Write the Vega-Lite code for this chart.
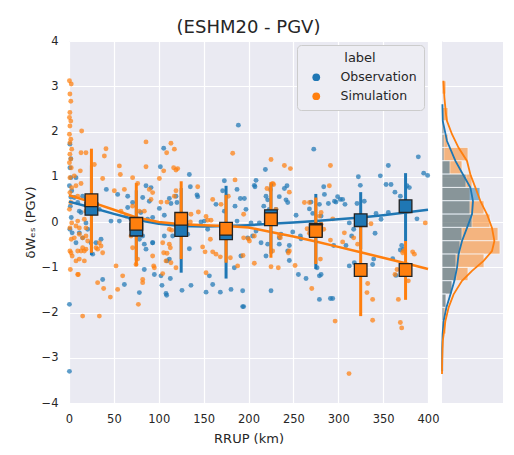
{
"$schema": "https://vega.github.io/schema/vega-lite/v6.json",
"background": "white",
"padding": {"left": 24, "top": 19, "right": 5, "bottom": 5},
"bounds": "flush",
"config": {
"font": "DejaVu Sans",
"view": {"fill": "#EAEAF2", "stroke": null},
"axis": {"domain": false, "ticks": false, "tickSize": 0, "grid": true, "gridColor": "#FFFFFF", "gridWidth": 1.2, "labelFlush": false, "labelColor": "#262626", "labelFont": "DejaVu Sans", "labelFontSize": 11.5, "titleFont": "DejaVu Sans", "titleFontSize": 13, "titleFontWeight": "normal", "titleColor": "#262626"},
"concat": {"spacing": 14}
},
"datasets": {
"pts": [
{"r":1,"v":1.72,"label":"Observation"},{"r":2,"v":0.98,"label":"Observation"},{"r":0.5,"v":0.8,"label":"Observation"},{"r":3,"v":0.69,"label":"Observation"},{"r":1.5,"v":0.35,"label":"Observation"},{"r":2.5,"v":0.1,"label":"Observation"},{"r":1,"v":-0.16,"label":"Observation"},{"r":3.5,"v":-0.24,"label":"Observation"},{"r":0.5,"v":-1.82,"label":"Observation"},{"r":0.5,"v":-3.3,"label":"Observation"},{"r":2,"v":1.4,"label":"Observation"},{"r":1,"v":1.2,"label":"Observation"},{"r":2,"v":0.55,"label":"Observation"},
{"r":41.6,"v":0.72,"label":"Observation"},{"r":46.8,"v":0.02,"label":"Observation"},{"r":56.1,"v":0.02,"label":"Observation"},{"r":54.2,"v":0.61,"label":"Observation"},{"r":65.4,"v":0.57,"label":"Observation"},{"r":65.4,"v":0.32,"label":"Observation"},{"r":70.9,"v":0.43,"label":"Observation"},{"r":82.1,"v":0.54,"label":"Observation"},{"r":85.8,"v":0.8,"label":"Observation"},{"r":91.4,"v":0.76,"label":"Observation"},{"r":89.5,"v":0.46,"label":"Observation"},{"r":69.1,"v":0.06,"label":"Observation"},{"r":76.5,"v":0.02,"label":"Observation"},{"r":87.6,"v":0.06,"label":"Observation"},{"r":93.2,"v":0.1,"label":"Observation"},{"r":82.1,"v":-0.31,"label":"Observation"},{"r":78.4,"v":-0.38,"label":"Observation"},{"r":83.9,"v":-0.49,"label":"Observation"},{"r":93.2,"v":-0.46,"label":"Observation"},{"r":85.8,"v":-0.6,"label":"Observation"},{"r":26.4,"v":-0.71,"label":"Observation"},{"r":30.1,"v":-0.46,"label":"Observation"},{"r":24.5,"v":-0.46,"label":"Observation"},{"r":15.2,"v":0.57,"label":"Observation"},{"r":18.9,"v":0.5,"label":"Observation"},{"r":20.8,"v":0.39,"label":"Observation"},{"r":5.9,"v":0.54,"label":"Observation"},{"r":9.7,"v":0.43,"label":"Observation"},{"r":11.5,"v":0.24,"label":"Observation"},{"r":13.4,"v":0.21,"label":"Observation"},{"r":18.9,"v":-0.02,"label":"Observation"},{"r":20.8,"v":-0.16,"label":"Observation"},{"r":11.5,"v":-0.24,"label":"Observation"},{"r":15.2,"v":-0.35,"label":"Observation"},{"r":7.8,"v":-0.46,"label":"Observation"},{"r":28.2,"v":0.24,"label":"Observation"},{"r":33.8,"v":0.28,"label":"Observation"},{"r":35.7,"v":-0.38,"label":"Observation"},{"r":37.5,"v":-1.27,"label":"Observation"},{"r":61.7,"v":-1.38,"label":"Observation"},{"r":78.4,"v":-1.56,"label":"Observation"},{"r":83.9,"v":-1.05,"label":"Observation"},{"r":7.8,"v":0.98,"label":"Observation"},{"r":80,"v":0.21,"label":"Observation"},
{"r":188.7,"v":2.14,"label":"Observation"},{"r":105.5,"v":1.63,"label":"Observation"},{"r":101.8,"v":1.22,"label":"Observation"},{"r":100.7,"v":0.3,"label":"Observation"},{"r":106.2,"v":0.15,"label":"Observation"},{"r":111.8,"v":0.52,"label":"Observation"},{"r":113.6,"v":0.41,"label":"Observation"},{"r":119.2,"v":0.57,"label":"Observation"},{"r":120.3,"v":0.43,"label":"Observation"},{"r":134.1,"v":1.05,"label":"Observation"},{"r":135.2,"v":0.78,"label":"Observation"},{"r":142.6,"v":0.6,"label":"Observation"},{"r":143.4,"v":0.56,"label":"Observation"},{"r":132.2,"v":-0.27,"label":"Observation"},{"r":134.1,"v":-0.59,"label":"Observation"},{"r":147.1,"v":0,"label":"Observation"},{"r":150.8,"v":0.02,"label":"Observation"},{"r":154.5,"v":-0.16,"label":"Observation"},{"r":163.8,"v":0.39,"label":"Observation"},{"r":171.2,"v":0.69,"label":"Observation"},{"r":173.1,"v":0.91,"label":"Observation"},{"r":187.2,"v":0.72,"label":"Observation"},{"r":190.9,"v":0.52,"label":"Observation"},{"r":185,"v":0.35,"label":"Observation"},{"r":173.1,"v":0.24,"label":"Observation"},{"r":187.2,"v":0.02,"label":"Observation"},{"r":191.6,"v":-0.75,"label":"Observation"},{"r":184.2,"v":-1.01,"label":"Observation"},{"r":156.4,"v":-1.19,"label":"Observation"},{"r":160.1,"v":-1.38,"label":"Observation"},{"r":152.7,"v":-1.55,"label":"Observation"},{"r":168.6,"v":-1.55,"label":"Observation"},{"r":180.5,"v":-1.49,"label":"Observation"},{"r":193.5,"v":-1.87,"label":"Observation"},{"r":102.5,"v":-1.19,"label":"Observation"},{"r":103.6,"v":-1.4,"label":"Observation"},{"r":108.1,"v":-1.58,"label":"Observation"},{"r":108.8,"v":-1.62,"label":"Observation"},{"r":112.9,"v":-1.25,"label":"Observation"},{"r":125.9,"v":-1.51,"label":"Observation"},{"r":135.9,"v":-1.4,"label":"Observation"},{"r":93.2,"v":-0.46,"label":"Observation"},{"r":95.1,"v":-1.16,"label":"Observation"},{"r":111.8,"v":-0.82,"label":"Observation"},{"r":109.2,"v":-0.86,"label":"Observation"},{"r":115.5,"v":-0.31,"label":"Observation"},{"r":106.2,"v":-0.31,"label":"Observation"},
{"r":272.7,"v":1.61,"label":"Observation"},{"r":218.8,"v":1.16,"label":"Observation"},{"r":208.4,"v":0.92,"label":"Observation"},{"r":206.5,"v":0.81,"label":"Observation"},{"r":207.2,"v":0.78,"label":"Observation"},{"r":195.4,"v":0.52,"label":"Observation"},{"r":219.5,"v":0.57,"label":"Observation"},{"r":221.4,"v":0.49,"label":"Observation"},{"r":234.3,"v":0.56,"label":"Observation"},{"r":240,"v":0.74,"label":"Observation"},{"r":242.9,"v":0.8,"label":"Observation"},{"r":241.8,"v":0.49,"label":"Observation"},{"r":243.7,"v":0.43,"label":"Observation"},{"r":217,"v":0.35,"label":"Observation"},{"r":223.2,"v":0.28,"label":"Observation"},{"r":230.6,"v":0.28,"label":"Observation"},{"r":202.8,"v":-0.02,"label":"Observation"},{"r":197.2,"v":0.28,"label":"Observation"},{"r":212.1,"v":-0.02,"label":"Observation"},{"r":208.4,"v":-0.2,"label":"Observation"},{"r":204.6,"v":-0.31,"label":"Observation"},{"r":199.1,"v":-0.35,"label":"Observation"},{"r":214,"v":-0.46,"label":"Observation"},{"r":221.4,"v":-0.49,"label":"Observation"},{"r":236.2,"v":-0.27,"label":"Observation"},{"r":249.3,"v":-0.22,"label":"Observation"},{"r":245.5,"v":-0.52,"label":"Observation"},{"r":243.7,"v":-0.64,"label":"Observation"},{"r":253,"v":0.15,"label":"Observation"},{"r":267.9,"v":0.29,"label":"Observation"},{"r":269.7,"v":0.44,"label":"Observation"},{"r":279,"v":0.39,"label":"Observation"},{"r":283.8,"v":0.78,"label":"Observation"},{"r":284.6,"v":0.61,"label":"Observation"},{"r":289,"v":0.41,"label":"Observation"},{"r":295.8,"v":0.46,"label":"Observation"},{"r":271.6,"v":0.19,"label":"Observation"},{"r":280.9,"v":0.13,"label":"Observation"},{"r":257.8,"v":-0.31,"label":"Observation"},{"r":258.5,"v":-0.37,"label":"Observation"},{"r":255.6,"v":-1.16,"label":"Observation"},{"r":264.1,"v":-1.25,"label":"Observation"},{"r":279,"v":-1.19,"label":"Observation"},{"r":280.9,"v":-1.16,"label":"Observation"},{"r":276.4,"v":-1.01,"label":"Observation"},{"r":291.3,"v":-1.69,"label":"Observation"},{"r":279,"v":-1.71,"label":"Observation"},{"r":225.1,"v":-1.52,"label":"Observation"},{"r":193.5,"v":-1.52,"label":"Observation"},{"r":194.6,"v":-1.87,"label":"Observation"},{"r":219.5,"v":-0.75,"label":"Observation"},{"r":245.5,"v":-0.85,"label":"Observation"},{"r":234.3,"v":-0.35,"label":"Observation"},{"r":234.3,"v":-0.49,"label":"Observation"},
{"r":389.2,"v":1.44,"label":"Observation"},{"r":355.8,"v":1.25,"label":"Observation"},{"r":346.9,"v":1.02,"label":"Observation"},{"r":322.4,"v":1.0,"label":"Observation"},{"r":324.6,"v":0.81,"label":"Observation"},{"r":353.3,"v":0.83,"label":"Observation"},{"r":358.8,"v":0.83,"label":"Observation"},{"r":363.2,"v":0.66,"label":"Observation"},{"r":369.2,"v":0.57,"label":"Observation"},{"r":376.6,"v":0.8,"label":"Observation"},{"r":379.2,"v":0.76,"label":"Observation"},{"r":395.2,"v":1.08,"label":"Observation"},{"r":399.6,"v":1.03,"label":"Observation"},{"r":299.3,"v":0.56,"label":"Observation"},{"r":302.3,"v":0.5,"label":"Observation"},{"r":304.9,"v":0.5,"label":"Observation"},{"r":297.5,"v":0.44,"label":"Observation"},{"r":307.5,"v":0.39,"label":"Observation"},{"r":320.9,"v":0.41,"label":"Observation"},{"r":329,"v":0.46,"label":"Observation"},{"r":342.1,"v":0.19,"label":"Observation"},{"r":347.7,"v":0.06,"label":"Observation"},{"r":355.8,"v":0.21,"label":"Observation"},{"r":387.7,"v":0.07,"label":"Observation"},{"r":312.3,"v":-0.02,"label":"Observation"},{"r":317.2,"v":-0.16,"label":"Observation"},{"r":314.9,"v":-0.31,"label":"Observation"},{"r":341,"v":-0.25,"label":"Observation"},{"r":294.9,"v":-0.52,"label":"Observation"},{"r":308.6,"v":-0.52,"label":"Observation"},{"r":317.9,"v":-0.9,"label":"Observation"},{"r":312.3,"v":-0.97,"label":"Observation"},{"r":338.3,"v":-0.94,"label":"Observation"},{"r":339.5,"v":-0.82,"label":"Observation"},{"r":360.7,"v":-0.81,"label":"Observation"},{"r":370.7,"v":-0.52,"label":"Observation"},{"r":372.9,"v":-0.6,"label":"Observation"},{"r":369.2,"v":-0.62,"label":"Observation"},{"r":364.3,"v":-1.18,"label":"Observation"},{"r":293.8,"v":-1.69,"label":"Observation"},
{"r":0.5,"v":3.12,"label":"Simulation"},{"r":2.5,"v":3.05,"label":"Simulation"},{"r":1,"v":2.83,"label":"Simulation"},{"r":2,"v":2.67,"label":"Simulation"},{"r":1,"v":2.42,"label":"Simulation"},{"r":0.5,"v":2.31,"label":"Simulation"},{"r":2,"v":2.23,"label":"Simulation"},{"r":1,"v":2.12,"label":"Simulation"},{"r":0.5,"v":1.94,"label":"Simulation"},{"r":2,"v":1.83,"label":"Simulation"},{"r":1,"v":1.75,"label":"Simulation"},{"r":3,"v":1.61,"label":"Simulation"},{"r":1,"v":1.5,"label":"Simulation"},{"r":2,"v":1.39,"label":"Simulation"},{"r":0.5,"v":1.31,"label":"Simulation"},{"r":2.5,"v":1.2,"label":"Simulation"},{"r":1,"v":0.98,"label":"Simulation"},{"r":3,"v":0.76,"label":"Simulation"},{"r":1,"v":0.65,"label":"Simulation"},{"r":2,"v":0.43,"label":"Simulation"},{"r":0.5,"v":0.28,"label":"Simulation"},{"r":3,"v":-0.02,"label":"Simulation"},{"r":1,"v":-0.13,"label":"Simulation"},{"r":2.5,"v":-0.38,"label":"Simulation"},{"r":1,"v":-0.64,"label":"Simulation"},{"r":3.5,"v":-0.75,"label":"Simulation"},{"r":1.5,"v":-1.05,"label":"Simulation"},
{"r":14.1,"v":2.01,"label":"Simulation"},{"r":13.4,"v":1.53,"label":"Simulation"},{"r":18.9,"v":1.53,"label":"Simulation"},{"r":28.2,"v":1.27,"label":"Simulation"},{"r":41.2,"v":1.62,"label":"Simulation"},{"r":39.4,"v":1.46,"label":"Simulation"},{"r":37.5,"v":0.96,"label":"Simulation"},{"r":13.4,"v":0.85,"label":"Simulation"},{"r":12.6,"v":1.13,"label":"Simulation"},{"r":5.9,"v":1.02,"label":"Simulation"},{"r":7.8,"v":0.8,"label":"Simulation"},{"r":9.7,"v":0.57,"label":"Simulation"},{"r":22.7,"v":0.57,"label":"Simulation"},{"r":18.9,"v":0.24,"label":"Simulation"},{"r":9.7,"v":0.02,"label":"Simulation"},{"r":7.8,"v":-0.09,"label":"Simulation"},{"r":11.5,"v":-0.13,"label":"Simulation"},{"r":17.1,"v":0.06,"label":"Simulation"},{"r":18.9,"v":-0.13,"label":"Simulation"},{"r":11.5,"v":-0.27,"label":"Simulation"},{"r":5.9,"v":-0.35,"label":"Simulation"},{"r":15.2,"v":-0.35,"label":"Simulation"},{"r":18.9,"v":-0.31,"label":"Simulation"},{"r":20.8,"v":-0.42,"label":"Simulation"},{"r":15.2,"v":-0.57,"label":"Simulation"},{"r":18.9,"v":-0.6,"label":"Simulation"},{"r":17.1,"v":-0.64,"label":"Simulation"},{"r":13.4,"v":-0.64,"label":"Simulation"},{"r":9.7,"v":-0.64,"label":"Simulation"},{"r":2.2,"v":-0.68,"label":"Simulation"},{"r":33.8,"v":-0.46,"label":"Simulation"},{"r":35.7,"v":-0.53,"label":"Simulation"},{"r":37.5,"v":-0.68,"label":"Simulation"},{"r":30.1,"v":-0.57,"label":"Simulation"},{"r":31.9,"v":-0.6,"label":"Simulation"},{"r":7.8,"v":-0.86,"label":"Simulation"},{"r":17.1,"v":-0.86,"label":"Simulation"},{"r":11.5,"v":-0.82,"label":"Simulation"},{"r":9.7,"v":-1.16,"label":"Simulation"},{"r":31.9,"v":-1.34,"label":"Simulation"},{"r":38.6,"v":-1.47,"label":"Simulation"},{"r":46.1,"v":-1.66,"label":"Simulation"},{"r":15.2,"v":-2.08,"label":"Simulation"},{"r":33.8,"v":-2.08,"label":"Simulation"},{"r":56.1,"v":1.24,"label":"Simulation"},{"r":57.2,"v":1.05,"label":"Simulation"},{"r":50.5,"v":0.69,"label":"Simulation"},{"r":61.7,"v":0.72,"label":"Simulation"},{"r":70.9,"v":0.98,"label":"Simulation"},{"r":76.5,"v":0.85,"label":"Simulation"},{"r":85.8,"v":1.77,"label":"Simulation"},{"r":85.8,"v":1.22,"label":"Simulation"},{"r":89.5,"v":0.72,"label":"Simulation"},{"r":93.2,"v":0.65,"label":"Simulation"},{"r":91.4,"v":0.5,"label":"Simulation"},{"r":57.9,"v":0.24,"label":"Simulation"},{"r":63.5,"v":0.13,"label":"Simulation"},{"r":70.9,"v":0.35,"label":"Simulation"},{"r":69.1,"v":-0.31,"label":"Simulation"},{"r":70.9,"v":-0.57,"label":"Simulation"},{"r":78.4,"v":0.24,"label":"Simulation"},{"r":83.9,"v":0.24,"label":"Simulation"},{"r":76.5,"v":-0.82,"label":"Simulation"},{"r":74.7,"v":-0.94,"label":"Simulation"},{"r":52.4,"v":-0.97,"label":"Simulation"},{"r":59.8,"v":-1.19,"label":"Simulation"},{"r":54.2,"v":-1.49,"label":"Simulation"},{"r":82.1,"v":-1.27,"label":"Simulation"},{"r":82.1,"v":-1.34,"label":"Simulation"},{"r":77.3,"v":-1.82,"label":"Simulation"},{"r":93.2,"v":-0.75,"label":"Simulation"},{"r":94.3,"v":-0.97,"label":"Simulation"},{"r":10.4,"v":-1.16,"label":"Simulation"},
{"r":113.6,"v":1.74,"label":"Simulation"},{"r":117.4,"v":1.61,"label":"Simulation"},{"r":108.8,"v":1.53,"label":"Simulation"},{"r":116.6,"v":1.2,"label":"Simulation"},{"r":121.1,"v":1.18,"label":"Simulation"},{"r":119.2,"v":1.15,"label":"Simulation"},{"r":105.5,"v":1.13,"label":"Simulation"},{"r":100.7,"v":0.96,"label":"Simulation"},{"r":102.5,"v":0.44,"label":"Simulation"},{"r":109.2,"v":0.44,"label":"Simulation"},{"r":119.2,"v":0.69,"label":"Simulation"},{"r":117.4,"v":0.57,"label":"Simulation"},{"r":143.4,"v":0.78,"label":"Simulation"},{"r":135.9,"v":0.17,"label":"Simulation"},{"r":144.1,"v":0.22,"label":"Simulation"},{"r":152.7,"v":0.12,"label":"Simulation"},{"r":154.5,"v":0.04,"label":"Simulation"},{"r":158.2,"v":0.04,"label":"Simulation"},{"r":135.2,"v":0,"label":"Simulation"},{"r":111.8,"v":-0.16,"label":"Simulation"},{"r":114.4,"v":-0.18,"label":"Simulation"},{"r":104.4,"v":-0.46,"label":"Simulation"},{"r":111.8,"v":-0.49,"label":"Simulation"},{"r":112.9,"v":-0.57,"label":"Simulation"},{"r":105.5,"v":-0.68,"label":"Simulation"},{"r":109.2,"v":-0.69,"label":"Simulation"},{"r":108.1,"v":-0.86,"label":"Simulation"},{"r":119.2,"v":-1.01,"label":"Simulation"},{"r":113.6,"v":-0.9,"label":"Simulation"},{"r":95.1,"v":-1.01,"label":"Simulation"},{"r":104.4,"v":-1.14,"label":"Simulation"},{"r":182.4,"v":1.52,"label":"Simulation"},{"r":185,"v":0.93,"label":"Simulation"},{"r":160.1,"v":0.5,"label":"Simulation"},{"r":169.4,"v":0.39,"label":"Simulation"},{"r":177.5,"v":0.57,"label":"Simulation"},{"r":157.5,"v":-0.38,"label":"Simulation"},{"r":148.9,"v":-0.55,"label":"Simulation"},{"r":151.6,"v":-0.66,"label":"Simulation"},{"r":160.1,"v":-0.66,"label":"Simulation"},{"r":163.8,"v":-0.71,"label":"Simulation"},{"r":168.6,"v":-0.77,"label":"Simulation"},{"r":179.8,"v":-0.79,"label":"Simulation"},{"r":194.6,"v":-0.35,"label":"Simulation"},{"r":194.6,"v":0.17,"label":"Simulation"},{"r":152.7,"v":-1.12,"label":"Simulation"},{"r":187.9,"v":-0.97,"label":"Simulation"},{"r":193.9,"v":-0.74,"label":"Simulation"},
{"r":225.1,"v":1.38,"label":"Simulation"},{"r":240,"v":1.25,"label":"Simulation"},{"r":246.7,"v":1.18,"label":"Simulation"},{"r":291.3,"v":1.25,"label":"Simulation"},{"r":226.9,"v":0.85,"label":"Simulation"},{"r":228,"v":0.83,"label":"Simulation"},{"r":220.6,"v":0.74,"label":"Simulation"},{"r":224.3,"v":0.71,"label":"Simulation"},{"r":245.5,"v":0.66,"label":"Simulation"},{"r":262.3,"v":0.43,"label":"Simulation"},{"r":267.9,"v":0.43,"label":"Simulation"},{"r":290.1,"v":0.8,"label":"Simulation"},{"r":230.6,"v":0.28,"label":"Simulation"},{"r":199.8,"v":-0.37,"label":"Simulation"},{"r":201,"v":-0.42,"label":"Simulation"},{"r":206.5,"v":-0.31,"label":"Simulation"},{"r":226.9,"v":-0.64,"label":"Simulation"},{"r":235.5,"v":-0.35,"label":"Simulation"},{"r":245.5,"v":-0.64,"label":"Simulation"},{"r":244.4,"v":-0.68,"label":"Simulation"},{"r":234.3,"v":-0.31,"label":"Simulation"},{"r":265.3,"v":-0.15,"label":"Simulation"},{"r":267.9,"v":-0.25,"label":"Simulation"},{"r":279,"v":0.13,"label":"Simulation"},{"r":280.9,"v":-0.05,"label":"Simulation"},{"r":283.8,"v":-0.16,"label":"Simulation"},{"r":293.9,"v":0.07,"label":"Simulation"},{"r":291.3,"v":-0.4,"label":"Simulation"},{"r":206.5,"v":-0.91,"label":"Simulation"},{"r":225.1,"v":-0.99,"label":"Simulation"},{"r":233.2,"v":-1.01,"label":"Simulation"},{"r":251.9,"v":-0.96,"label":"Simulation"},{"r":280.1,"v":-0.82,"label":"Simulation"},{"r":270.5,"v":-1.47,"label":"Simulation"},{"r":296.5,"v":-2.19,"label":"Simulation"},{"r":280.9,"v":0.21,"label":"Simulation"},
{"r":306.8,"v":-0.24,"label":"Simulation"},{"r":304.9,"v":-0.44,"label":"Simulation"},{"r":317.2,"v":-0.35,"label":"Simulation"},{"r":321.6,"v":-0.49,"label":"Simulation"},{"r":336.5,"v":-0.04,"label":"Simulation"},{"r":365.5,"v":-1.05,"label":"Simulation"},{"r":372.9,"v":-0.64,"label":"Simulation"},{"r":371.8,"v":-0.68,"label":"Simulation"},{"r":382.9,"v":-0.66,"label":"Simulation"},{"r":384.8,"v":-0.71,"label":"Simulation"},{"r":363.2,"v":-1.16,"label":"Simulation"},{"r":378.1,"v":-1.3,"label":"Simulation"},{"r":332.8,"v":-1.36,"label":"Simulation"},{"r":332,"v":-1.56,"label":"Simulation"},{"r":338.3,"v":-1.71,"label":"Simulation"},{"r":367,"v":-1.71,"label":"Simulation"},{"r":338.3,"v":-2.17,"label":"Simulation"},{"r":369.2,"v":-2.22,"label":"Simulation"},{"r":370.7,"v":-2.34,"label":"Simulation"},{"r":397,"v":-0.02,"label":"Simulation"},{"r":312,"v":-3.35,"label":"Simulation"}
],
"lines": [
{"r":0,"v":0.45,"label":"Observation"},{"r":25,"v":0.32,"label":"Observation"},{"r":50,"v":0.18,"label":"Observation"},{"r":75,"v":0.05,"label":"Observation"},{"r":100,"v":-0.04,"label":"Observation"},{"r":125,"v":-0.09,"label":"Observation"},{"r":150,"v":-0.1,"label":"Observation"},{"r":175,"v":-0.09,"label":"Observation"},{"r":200,"v":-0.07,"label":"Observation"},{"r":225,"v":-0.04,"label":"Observation"},{"r":250,"v":-0.01,"label":"Observation"},{"r":275,"v":0.02,"label":"Observation"},{"r":300,"v":0.06,"label":"Observation"},{"r":325,"v":0.1,"label":"Observation"},{"r":350,"v":0.15,"label":"Observation"},{"r":375,"v":0.21,"label":"Observation"},{"r":400,"v":0.27,"label":"Observation"},
{"r":0,"v":0.59,"label":"Simulation"},{"r":25,"v":0.44,"label":"Simulation"},{"r":50,"v":0.27,"label":"Simulation"},{"r":75,"v":0.1,"label":"Simulation"},{"r":100,"v":0.0,"label":"Simulation"},{"r":125,"v":-0.05,"label":"Simulation"},{"r":150,"v":-0.07,"label":"Simulation"},{"r":175,"v":-0.09,"label":"Simulation"},{"r":200,"v":-0.12,"label":"Simulation"},{"r":225,"v":-0.22,"label":"Simulation"},{"r":250,"v":-0.32,"label":"Simulation"},{"r":275,"v":-0.43,"label":"Simulation"},{"r":300,"v":-0.55,"label":"Simulation"},{"r":325,"v":-0.67,"label":"Simulation"},{"r":350,"v":-0.79,"label":"Simulation"},{"r":375,"v":-0.91,"label":"Simulation"},{"r":400,"v":-1.04,"label":"Simulation"}
],
"bins": [
{"r":25,"m":0.29,"lo":-0.73,"hi":1.25,"label":"Observation"},{"r":75,"m":-0.17,"lo":-0.85,"hi":0.7,"label":"Observation"},{"r":125,"m":-0.18,"lo":-1.12,"hi":0.75,"label":"Observation"},{"r":175,"m":-0.25,"lo":-1.25,"hi":0.8,"label":"Observation"},{"r":225,"m":0.13,"lo":-0.7,"hi":0.85,"label":"Observation"},{"r":275,"m":-0.17,"lo":-1.04,"hi":0.62,"label":"Observation"},{"r":325,"m":0.04,"lo":-0.6,"hi":0.66,"label":"Observation"},{"r":375,"m":0.35,"lo":-0.42,"hi":1.08,"label":"Observation"},
{"r":25,"m":0.48,"lo":-0.68,"hi":1.62,"label":"Simulation"},{"r":75,"m":-0.04,"lo":-0.97,"hi":0.86,"label":"Simulation"},{"r":125,"m":0.07,"lo":-0.82,"hi":0.9,"label":"Simulation"},{"r":175,"m":-0.15,"lo":-0.9,"hi":0.6,"label":"Simulation"},{"r":225,"m":0.06,"lo":-0.79,"hi":0.88,"label":"Simulation"},{"r":275,"m":-0.2,"lo":-0.93,"hi":0.54,"label":"Simulation"},{"r":325,"m":-1.06,"lo":-2.08,"hi":-0.04,"label":"Simulation"},{"r":375,"m":-1.06,"lo":-1.72,"hi":-0.42,"label":"Simulation"}
],
"hist": [
{"b0":2.826,"b1":3.12,"n":2,"label":"Simulation"},{"b0":2.237,"b1":2.531,"n":3,"label":"Simulation"},{"b0":1.942,"b1":2.237,"n":1,"label":"Simulation"},{"b0":1.648,"b1":1.942,"n":3,"label":"Simulation"},{"b0":1.353,"b1":1.648,"n":13,"label":"Simulation"},{"b0":1.059,"b1":1.353,"n":10,"label":"Simulation"},{"b0":0.764,"b1":1.059,"n":15,"label":"Simulation"},{"b0":0.47,"b1":0.764,"n":14,"label":"Simulation"},{"b0":0.175,"b1":0.47,"n":21,"label":"Simulation"},{"b0":-0.119,"b1":0.175,"n":24,"label":"Simulation"},{"b0":-0.414,"b1":-0.119,"n":28,"label":"Simulation"},{"b0":-0.708,"b1":-0.414,"n":29,"label":"Simulation"},{"b0":-1.003,"b1":-0.708,"n":21,"label":"Simulation"},{"b0":-1.297,"b1":-1.003,"n":13,"label":"Simulation"},{"b0":-1.592,"b1":-1.297,"n":5,"label":"Simulation"},{"b0":-1.886,"b1":-1.592,"n":2,"label":"Simulation"},{"b0":-2.181,"b1":-1.886,"n":2,"label":"Simulation"},{"b0":-2.475,"b1":-2.181,"n":2,"label":"Simulation"},
{"b0":1.942,"b1":2.237,"n":1,"label":"Observation"},{"b0":1.648,"b1":1.942,"n":1,"label":"Observation"},{"b0":1.353,"b1":1.648,"n":1,"label":"Observation"},{"b0":1.059,"b1":1.353,"n":4,"label":"Observation"},{"b0":0.764,"b1":1.059,"n":12,"label":"Observation"},{"b0":0.47,"b1":0.764,"n":19,"label":"Observation"},{"b0":0.175,"b1":0.47,"n":14,"label":"Observation"},{"b0":-0.119,"b1":0.175,"n":15,"label":"Observation"},{"b0":-0.414,"b1":-0.119,"n":10,"label":"Observation"},{"b0":-0.708,"b1":-0.414,"n":9,"label":"Observation"},{"b0":-1.003,"b1":-0.708,"n":7,"label":"Observation"},{"b0":-1.297,"b1":-1.003,"n":7,"label":"Observation"},{"b0":-1.592,"b1":-1.297,"n":5,"label":"Observation"},{"b0":-1.886,"b1":-1.592,"n":2,"label":"Observation"},{"b0":-2.181,"b1":-1.886,"n":1,"label":"Observation"}
],
"kde": [
{"v":2.6,"d":0.2,"label":"Observation"},{"v":2.23,"d":0.4,"label":"Observation"},{"v":1.79,"d":2.5,"label":"Observation"},{"v":1.35,"d":6.7,"label":"Observation"},{"v":1.05,"d":10.5,"label":"Observation"},{"v":0.76,"d":14.2,"label":"Observation"},{"v":0.46,"d":15.5,"label":"Observation"},{"v":0.17,"d":15.0,"label":"Observation"},{"v":-0.13,"d":12.5,"label":"Observation"},{"v":-0.42,"d":10.0,"label":"Observation"},{"v":-0.71,"d":8.3,"label":"Observation"},{"v":-1.01,"d":7.5,"label":"Observation"},{"v":-1.3,"d":6.2,"label":"Observation"},{"v":-1.6,"d":4.2,"label":"Observation"},{"v":-1.89,"d":2.2,"label":"Observation"},{"v":-2.19,"d":0.8,"label":"Observation"},{"v":-2.48,"d":0.3,"label":"Observation"},{"v":-2.8,"d":0.1,"label":"Observation"},{"v":-3.3,"d":0.1,"label":"Observation"},
{"v":3.12,"d":0.7,"label":"Simulation"},{"v":2.75,"d":1.2,"label":"Simulation"},{"v":2.38,"d":2.0,"label":"Simulation"},{"v":2.23,"d":2.5,"label":"Simulation"},{"v":1.94,"d":5.0,"label":"Simulation"},{"v":1.64,"d":8.3,"label":"Simulation"},{"v":1.35,"d":12.5,"label":"Simulation"},{"v":1.05,"d":14.2,"label":"Simulation"},{"v":0.76,"d":16.7,"label":"Simulation"},{"v":0.46,"d":19.2,"label":"Simulation"},{"v":0.17,"d":22.5,"label":"Simulation"},{"v":-0.13,"d":25.0,"label":"Simulation"},{"v":-0.42,"d":26.2,"label":"Simulation"},{"v":-0.64,"d":25.0,"label":"Simulation"},{"v":-0.86,"d":20.8,"label":"Simulation"},{"v":-1.08,"d":15.0,"label":"Simulation"},{"v":-1.3,"d":10.0,"label":"Simulation"},{"v":-1.6,"d":5.8,"label":"Simulation"},{"v":-1.89,"d":3.3,"label":"Simulation"},{"v":-2.19,"d":1.7,"label":"Simulation"},{"v":-2.63,"d":0.4,"label":"Simulation"},{"v":-3.07,"d":0.1,"label":"Simulation"},{"v":-3.36,"d":0.0,"label":"Simulation"}
]
},
"resolve": {"scale": {"color": "independent"}, "legend": {"color": "independent"}},
"hconcat": [
{
"width": 359, "height": 362,
"title": {"text": "(ESHM20 - PGV)", "fontSize": 18, "fontWeight": "normal", "color": "#262626", "font": "DejaVu Sans", "offset": -2},
"layer": [
{"data": {"name": "pts"}, "mark": {"type": "circle", "size": 24, "opacity": 0.72},
"encoding": {
"x": {"field": "r", "type": "quantitative", "scale": {"domain": [0, 400], "nice": false, "padding": 0}, "axis": {"values": [0,50,100,150,200,250,300,350,400], "title": "RRUP (km)", "labelPadding": 10, "titlePadding": 8}},
"y": {"field": "v", "type": "quantitative", "scale": {"domain": [-4, 4], "nice": false, "padding": 0}, "axis": {"values": [-4,-3,-2,-1,0,1,2,3,4], "title": "δWₑₛ (PGV)", "labelPadding": 11, "titlePadding": 4}},
"color": {"field": "label", "type": "nominal", "scale": {"domain": ["Observation", "Simulation"], "range": ["#1f77b4", "#ff7f0e"]},
"legend": {"title": "label", "orient": "top-right", "offset": 4, "titleAnchor": "middle", "titleAlign": "center", "titleFontSize": 13, "titleFontWeight": "normal", "titleColor": "#262626", "labelFontSize": 12.5, "labelColor": "#262626", "symbolType": "circle", "symbolSize": 60, "symbolOpacity": 1, "symbolStrokeWidth": 0, "symbolOffset": 6, "fillColor": "#EDEDF3", "strokeColor": "#CCCCCC", "cornerRadius": 4, "padding": 7, "rowPadding": 6, "labelOffset": 18, "titlePadding": 6}}
}},
{"data": {"name": "lines"}, "mark": {"type": "line", "strokeWidth": 2.5},
"encoding": {"x": {"field": "r", "type": "quantitative"}, "y": {"field": "v", "type": "quantitative"}, "color": {"field": "label", "type": "nominal"}}},
{"data": {"name": "bins"}, "mark": {"type": "rule", "strokeWidth": 3},
"encoding": {"x": {"field": "r", "type": "quantitative"}, "y": {"field": "lo", "type": "quantitative"}, "y2": {"field": "hi"}, "color": {"field": "label", "type": "nominal"}}},
{"data": {"name": "bins"}, "mark": {"type": "square", "size": 160, "filled": true, "opacity": 1, "stroke": "#222222", "strokeWidth": 1.3},
"encoding": {"x": {"field": "r", "type": "quantitative"}, "y": {"field": "m", "type": "quantitative"}, "color": {"field": "label", "type": "nominal"}}}
]
},
{
"width": 61, "height": 362,
"layer": [
{"data": {"name": "hist"}, "mark": {"type": "rect", "opacity": 0.5, "stroke": "#FFFFFF", "strokeWidth": 0.8},
"encoding": {
"x": {"field": "n", "type": "quantitative", "scale": {"domain": [0, 30.5], "nice": false, "padding": 0}, "axis": null},
"x2": {"datum": 0},
"y": {"field": "b0", "type": "quantitative", "scale": {"domain": [-4, 4], "nice": false, "padding": 0}, "axis": {"values": [-4,-3,-2,-1,0,1,2,3,4], "labels": false, "title": null, "grid": true}},
"y2": {"field": "b1"},
"color": {"field": "label", "type": "nominal", "scale": {"domain": ["Observation", "Simulation"], "range": ["#1f77b4", "#ff7f0e"]}, "legend": null}
}},
{"data": {"name": "kde"}, "mark": {"type": "line", "strokeWidth": 1.8},
"encoding": {
"x": {"field": "d", "type": "quantitative"},
"y": {"field": "v", "type": "quantitative"},
"order": {"field": "v", "type": "quantitative"},
"color": {"field": "label", "type": "nominal", "legend": null}
}}
]
}
]
}
